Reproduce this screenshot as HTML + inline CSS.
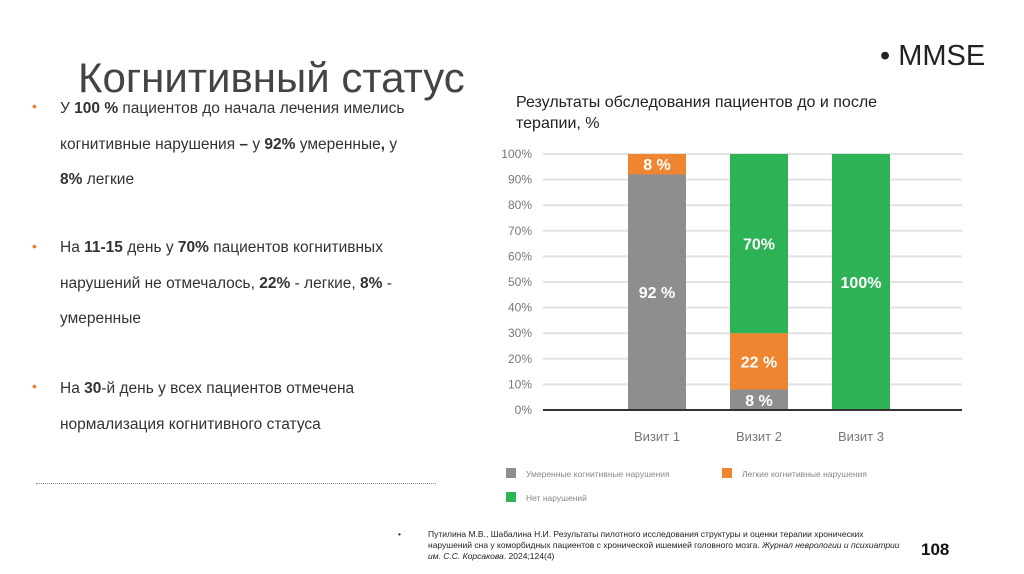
<!DOCTYPE html>
<html><head><meta charset="utf-8"><style>
body{margin:0;width:1024px;height:574px;background:#fff;position:relative;overflow:hidden;font-family:"Liberation Sans","DejaVu Sans",sans-serif}
.abs{position:absolute}
.t{font-size:15.5px;color:#333;line-height:35.5px}
.bul{position:absolute;left:32px;color:#e87e2c;font-size:14px}
</style></head><body>
<div class="abs" style="left:78px;top:54px;font-size:42px;color:#444">Когнитивный статус</div>
<div class="abs" style="left:880px;top:40px;font-size:29px;color:#222">• MMSE</div>
<div class="abs" style="left:0;top:0">
<span class="bul" style="top:98px">•</span>
<div class="abs t" style="left:60px;top:91px;width:392px">У <b>100 %</b> пациентов до начала лечения имелись когнитивные нарушения <b>–</b> у <b>92%</b> умеренные<b>,</b> у<br><b>8%</b> легкие</div>
<span class="bul" style="top:238px">•</span>
<div class="abs t" style="left:60px;top:230px;width:395px">На <b>11-15</b> день у <b>70%</b> пациентов когнитивных нарушений не отмечалось, <b>22%</b> - легкие, <b>8%</b> - умеренные</div>
<span class="bul" style="top:378px">•</span>
<div class="abs t" style="left:60px;top:371px;width:395px">На <b>30</b>-й день у всех пациентов отмечена нормализация когнитивного статуса</div>
</div>
<div class="abs" style="left:36px;top:483px;width:400px;border-top:1px dotted #888"></div>
<div class="abs" style="left:516px;top:92px;font-size:16px;color:#222;line-height:21px;width:420px">Результаты обследования пациентов до и после терапии, %</div>
<svg class="abs" style="left:0;top:0" width="1024" height="574" id="chart"></svg>
<div class="abs" style="left:400px;top:529px;font-size:8.5px;color:#222;line-height:11px;width:500px"><span style="position:absolute;left:-2px">•</span><div style="margin-left:28px">Путилина М.В., Шабалина Н.И. Результаты пилотного исследования структуры и оценки терапии хронических нарушений сна у коморбидных пациентов с хронической ишемией головного мозга. <i>Журнал неврологии и психиатрии им. С.С. Корсакова</i>. 2024;124(4)</div></div>
<div class="abs" style="left:921px;top:540px;font-size:17px;font-weight:bold;color:#111">108</div>
<script>
const categories=["Визит 1","Визит 2","Визит 3"];
const moderate=[92,8,0];
const mild=[8,22,0];
const none=[0,70,100];
const ticks=[0,10,20,30,40,50,60,70,80,90,100];
const seriesNames=["Умеренные когнитивные нарушения","Легкие когнитивные нарушения","Нет нарушений"];
const svg=document.getElementById('chart');const NS="http://www.w3.org/2000/svg";
const y=v=>410-v*2.56, xc=i=>657+i*102;
function mk(t,a){const e=document.createElementNS(NS,t);for(const k in a)e.setAttribute(k,a[k]);svg.appendChild(e);return e;}
ticks.forEach(t=>{
 const l=mk('line',{x1:543,x2:962,y1:y(t),y2:y(t),stroke:'#e2e2e2','stroke-width':2});
 
 
 const tx=mk('text',{x:532,y:y(t)+4,'text-anchor':'end','font-size':12,fill:'#777'});tx.textContent=t+'%';
 
 
});
const series=[[moderate,'#8c8e90'],[mild,'#ef8530'],[none,'#2db356']];
categories.forEach((c,i)=>{
 let base=0;
 series.forEach(([arr,col],s)=>{
  const v=arr[i];if(!v)return;
  const r=mk('rect',{x:xc(i)-29,width:58,y:y(base+v),height:v*2.56,fill:col});
  
  
  const t=mk('text',{x:xc(i),y:y(base+v/2)+6,'text-anchor':'middle','font-size':16,'font-weight':'bold',fill:'#fff'});
  t.textContent=(v===100||v===70)?v+'%':v+' %';
  
  
  base+=v;
 });
 const ct=mk('text',{x:xc(i),y:441,'text-anchor':'middle','font-size':13,fill:'#777'});ct.textContent=c;
 
 
});
const ax=mk('line',{x1:543,x2:962,y1:410,y2:410,stroke:'#333','stroke-width':2});


const lg=[[506,473],[722,473],[506,497]];
seriesNames.forEach((n,s)=>{
 const r=mk('rect',{x:lg[s][0],y:lg[s][1]-5,width:10,height:10,fill:series[s][1]});
 
 
 const t=mk('text',{x:lg[s][0]+20,y:lg[s][1]+4,'font-size':8.5,fill:'#888'});t.textContent=n;
 
 
});
</script>
</body></html>
